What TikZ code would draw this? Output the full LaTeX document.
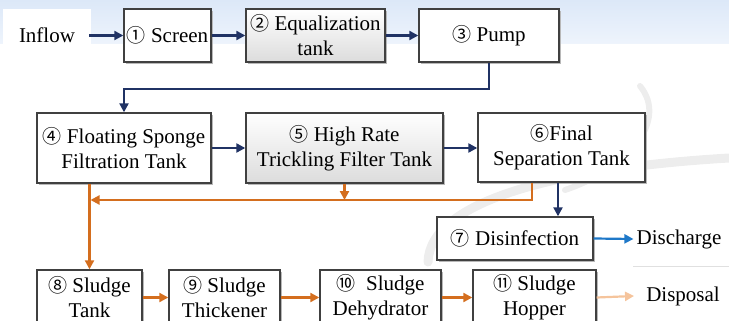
\documentclass[tikz,border=0pt]{standalone}
\usepackage{fontspec}
\setmainfont{Liberation Serif}
\newfontfamily\cfont{Noto Sans CJK SC}
\usetikzlibrary{arrows.meta,calc}
\definecolor{navy}{HTML}{203264}
\definecolor{sludge}{HTML}{D46E1E}
\definecolor{outblue}{HTML}{1E78C8}
\definecolor{lightor}{HTML}{F5C49C}
\definecolor{bordergray}{HTML}{404040}
\definecolor{shadowgray}{HTML}{B8B8B8}
\definecolor{bandtop}{HTML}{DCE8F8}
\definecolor{bandbot}{HTML}{EEF4FC}
\definecolor{boxgray}{HTML}{DCDCDC}
\newcommand{\cn}[1]{{\cfont\fontsize{19}{25}\selectfont #1}}
\begin{document}
\begin{tikzpicture}[x=1pt,y=-1pt,
  box/.style={draw=bordergray, line width=1.4pt, fill=white, align=center, inner sep=2pt,
    font=\fontsize{21}{25}\selectfont},
  gbox/.style={box, top color=white, bottom color=boxgray},
  flow/.style={line width=2.2pt, -{Triangle[length=9pt,width=9pt]}},
  navyarrow/.style={flow, draw=navy},
  orarrow/.style={flow, draw=sludge},
  bluearrow/.style={flow, draw=outblue},
  lightarrow/.style={flow, draw=lightor},
  plain/.style={inner sep=0pt, font=\fontsize{21}{25}\selectfont}]
\useasboundingbox (0,0) rectangle (729,321);
% background
\fill[top color=bandtop, bottom color=bandbot] (0,0) rectangle (729,44);
\draw[black!7, line width=9pt, line cap=round] (428,262) .. controls (430,200) and (560,168) .. (729,158);
\draw[black!7, line width=6pt, line cap=round] (640,86) .. controls (668,120) and (630,168) .. (565,190);
\draw[black!12, line width=0.6pt] (633,266) -- (729,266);
% box shadows
\foreach \cx/\cy/\w/\h in {167.5/35.5/87/53, 315.5/35.5/139/53, 489/35.5/140/53,
  124/148/174/70, 344.5/148/197/70, 561.5/147.5/167/69, 515/238.5/156/43,
  89.5/297.5/105/55, 224.5/297.5/111/55, 380.5/297.5/121/55, 534.5/297.5/123/55}
  \fill[shadowgray] (\cx-\w/2+2.2,\cy-\h/2+2.2) rectangle (\cx+\w/2+2.2,\cy+\h/2+2.2);
% nodes
\node[plain, fill=white, minimum width=88pt, minimum height=53pt] (in) at (47,35.5) {Inflow};
\node[box, minimum width=87pt, minimum height=53pt] (s1) at (167.5,35.5) {\cn{①} Screen};
\node[gbox, minimum width=139pt, minimum height=53pt] (s2) at (315.5,35.5) {\cn{②} Equalization\\tank};
\node[box, minimum width=140pt, minimum height=53pt] (s3) at (489,35.5) {\cn{③} Pump};
\node[box, minimum width=174pt, minimum height=70pt] (s4) at (124,148) {\cn{④} Floating Sponge\\Filtration Tank};
\node[gbox, minimum width=197pt, minimum height=70pt] (s5) at (344.5,148) {\cn{⑤} High Rate\\Trickling Filter Tank};
\node[box, minimum width=167pt, minimum height=69pt] (s6) at (561.5,147.5) {\cn{⑥}Final\\Separation Tank};
\node[box, minimum width=156pt, minimum height=43pt] (s7) at (515,238.5) {\cn{⑦} Disinfection};
\node[box, minimum width=105pt, minimum height=55pt] (s8) at (89.5,297.5) {\cn{⑧} Sludge\\Tank};
\node[box, minimum width=111pt, minimum height=55pt] (s9) at (224.5,297.5) {\cn{⑨} Sludge\\Thickener};
\node[box, minimum width=121pt, minimum height=55pt] (s10) at (380.5,297.5) {\cn{⑩}\ \ Sludge\\Dehydrator};
\node[box, minimum width=123pt, minimum height=55pt] (s11) at (534.5,297.5) {\cn{⑪} Sludge\\Hopper};
\node[plain] (dis) at (679,239) {Discharge};
\node[plain] (disp) at (683,296) {Disposal};
\coordinate (oc) at (89.5,200);
% main flow
\draw[navyarrow] ([xshift=-2pt]in.east) -- (s1.west);
\draw[navyarrow] (s1.east) -- (s2.west);
\draw[navyarrow] (s2.east) -- (s3.west);
\draw[navyarrow] (s3.south) -- ++(0,26) -| (s4.north);
\draw[navyarrow] (s4.east) -- (s5.west);
\draw[navyarrow] (s5.east) -- (s5.east -| s6.west);
\draw[navyarrow] ([xshift=-3.5pt]s6.south) -- ([xshift=-3.5pt]s6.south |- s7.north);
\draw[bluearrow] (s7.east) -- ([xshift=-3pt]dis.west);
% sludge line
\draw[orarrow] ([xshift=-29.5pt]s6.south) |- ([xshift=1pt]oc);
\draw[orarrow] (s5.south) -- (s5.south |- oc);
\draw[orarrow] (s4.south -| s8.north) -- (s8.north);
\draw[orarrow] (s8.east) -- (s9.west);
\draw[orarrow] (s9.east) -- (s10.west);
\draw[orarrow] (s10.east) -- (s11.west);
\draw[lightarrow] (s11.east) -- ([xshift=-12pt]disp.west);
\end{tikzpicture}
\end{document}
